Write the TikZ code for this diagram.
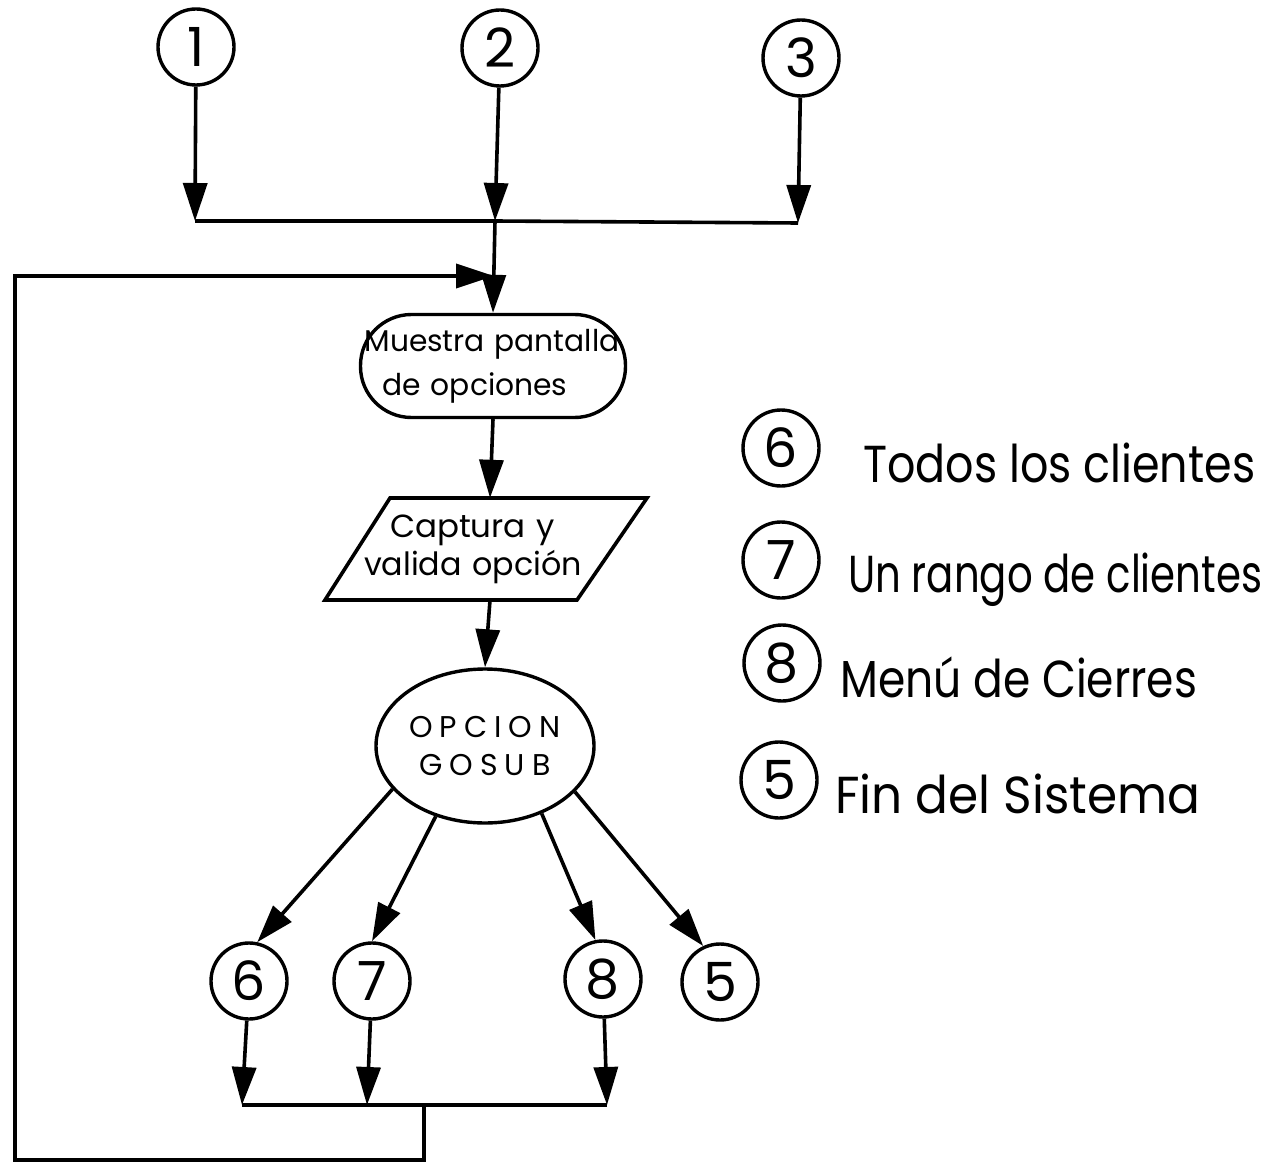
\documentclass[tikz,border=0pt]{standalone}
\usepackage{fontspec}
\setmainfont{Poppins}
\usepackage{graphicx}
\usetikzlibrary{arrows.meta,shapes.geometric}
\newcommand\myspc{\hspace{7pt}}
\tikzset{
  ln/.style={line width=3.6pt,line join=miter},
  arr/.style={line width=3.6pt,line join=miter,-{Triangle[length=38pt,width=24pt]}},
  numc/.style={circle,draw,line width=3.4pt,minimum size=76pt,inner sep=0pt,font=\fontsize{54}{56}\selectfont},
  legtxt/.style={anchor=base west,inner sep=0pt,font=\fontsize{52}{56}\selectfont},
  boxtxt/.style={inner sep=0pt,align=left},
}
\begin{document}
\begin{tikzpicture}[x=1pt,y=-1pt]
\useasboundingbox (0,0) rectangle (1287,1166);
% top connectors
\node[numc] (c1) at (196,47) {1};
\node[numc] (c2) at (500,48) {2};
\node[numc] (c3) at (801,58) {3};
\coordinate (j1) at (195,221);
\coordinate (j2) at (495,221);
\coordinate (j3) at (798,223);
\draw[arr] (c1) -- (j1);
\draw[arr] (c2) -- (j2);
\draw[arr] (c3) -- (j3);
\draw[ln] (j1) -- (j2) -- (j3);
% main flow
\node[draw,line width=3.4pt,rounded corners=51pt,minimum width=265pt,minimum height=103pt,
      boxtxt,text width=257pt,font=\fontsize{30}{44}\selectfont] (mue) at (493,366)
      {\resizebox{255pt}{\height}{Muestra pantalla}\\\hspace*{18pt}\resizebox{185pt}{\height}{de opciones}};
\draw[arr] (j2) -- (mue.north);
\coordinate (p1) at (325,600);
\coordinate (p2) at (577,600);
\coordinate (p3) at (647,498);
\coordinate (p4) at (390,498);
\draw[ln] (p1) -- (p2) -- (p3) -- (p4) -- cycle;
\node[boxtxt,minimum height=102pt,text width=252pt,font=\fontsize{32}{38}\selectfont] (cap) at (490,549)
      {\hspace*{26pt}\resizebox{165pt}{\height}{Captura y}\\\resizebox{218pt}{\height}{valida opción}};
\draw[arr] (mue.south) -- (cap.north);
\node[ellipse,draw,line width=3.4pt,minimum width=218pt,minimum height=154pt,inner sep=0pt,
      align=center,font=\fontsize{30}{38}\selectfont] (opc) at (485,746)
      {O\myspc P\myspc C\myspc I\myspc O\myspc N\\G\myspc O\myspc S\myspc U\myspc B};
\draw[arr] (cap.south) -- (opc.north);
% option circles
\node[numc] (c6) at (249,981) {6};
\node[numc] (c7) at (372,981) {7};
\node[numc] (c8) at (603,979) {8};
\node[numc] (c5) at (720,982) {5};
\draw[arr] (opc.205) -- (c6.78);
\draw[arr] (opc.235) -- (c7.90);
\draw[arr] (opc.310) -- (c8.101);
\draw[arr] (opc.333) -- (c5.115);
\coordinate (b6) at (242,1105);
\coordinate (b7) at (367,1105);
\coordinate (b8) at (607,1105);
\draw[arr] (c6) -- (b6);
\draw[arr] (c7) -- (b7);
\draw[arr] (c8) -- (b8);
\draw[ln] (b6) -- (b8);
% feedback loop
\coordinate (m1) at (424,1105);
\coordinate (m3) at (15,1160);
\coordinate (m4) at (15,276);
\coordinate (fb) at (494,276);
\draw[arr] (m1) |- (m3) -- (m4) -- (fb);
% legend
\node[numc] (l6) at (781,448) {6};
\node[numc] (l7) at (781,560) {7};
\node[numc] (l8) at (782,663) {8};
\node[numc] (l5) at (779,780) {5};
\node[legtxt] (t6) at (863,482) {\resizebox{392pt}{\height}{Todos los clientes}};
\node[legtxt] (t7) at (848,592) {\resizebox{414pt}{\height}{Un rango de clientes}};
\node[legtxt] (t8) at (840,697) {\resizebox{357pt}{\height}{Menú de Cierres}};
\node[legtxt] (t5) at (835,813) {\resizebox{365pt}{\height}{Fin del Sistema}};
\end{tikzpicture}
\end{document}
